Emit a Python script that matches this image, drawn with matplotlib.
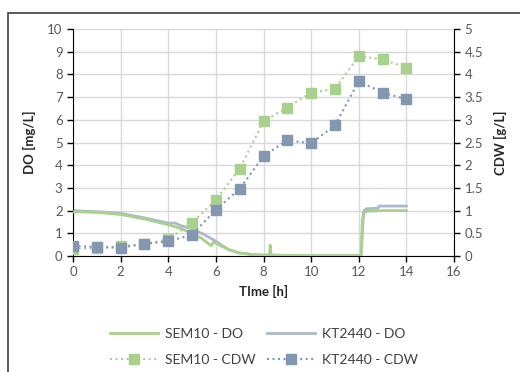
import matplotlib.pyplot as plt
from matplotlib.patches import Rectangle
from matplotlib.lines import Line2D

plt.rcParams['font.family'] = ['Lato', 'DejaVu Sans']

# CDW samples (hourly)
t_cdw = [0, 1, 2, 3, 4, 5, 6, 7, 8, 9, 10, 11, 12, 13, 14]
sem10_cdw = [0.16, 0.17, 0.22, 0.26, 0.37, 0.73, 1.24, 1.92, 2.97, 3.27, 3.60, 3.68, 4.40, 4.33, 4.15]
kt2440_cdw = [0.22, 0.20, 0.18, 0.27, 0.32, 0.47, 1.02, 1.48, 2.20, 2.55, 2.48, 2.88, 3.85, 3.60, 3.45]

# DO traces
t_sem_do = [0, 1, 2, 3, 4, 4.5, 5, 5.4, 5.8, 5.9, 6.2, 6.6, 7, 7.5, 8, 8.25, 8.28, 8.32, 8.5, 9, 10, 11, 12.1, 12.15, 12.25, 12.5, 13, 14]
sem_do = [1.95, 1.92, 1.83, 1.63, 1.38, 1.22, 1.0, 0.78, 0.45, 0.62, 0.45, 0.25, 0.13, 0.07, 0.05, 0.05, 0.48, 0.05, 0.04, 0.03, 0.02, 0.02, 0.02, 1.6, 1.95, 1.98, 2.0, 2.0]
t_kt_do = [0, 1, 2, 3, 4, 4.3, 4.5, 5, 5.5, 6, 6.5, 7, 7.3, 7.6, 8, 9, 10, 11, 12.1, 12.2, 12.3, 12.8, 12.85, 13.5, 14]
kt_do = [2.0, 1.95, 1.88, 1.68, 1.45, 1.45, 1.35, 1.2, 0.95, 0.65, 0.3, 0.13, 0.1, 0.03, 0.02, 0.01, 0.01, 0.01, 0.02, 1.95, 2.08, 2.1, 2.2, 2.2, 2.2]

green = '#A9D18E'
blue = '#8497B0'
blue_line = '#ADB9CA'
grid_c = '#D9D9D9'
txt_c = '#595959'

fig = plt.figure(figsize=(5.2, 3.72), dpi=100)
fig.patches.append(Rectangle((8/520, -0.1), 1.2, (372 - 13)/372 + 0.1,
                             transform=fig.transFigure, fill=False,
                             edgecolor='#404040', linewidth=1.2))

ax = fig.add_axes([73/520, 1 - 256/372, (454 - 73)/520, (256 - 29)/372])
ax2 = ax.twinx()

ax.plot(t_sem_do, sem_do, color=green, lw=2, zorder=3)
ax.plot(t_kt_do, kt_do, color=blue_line, lw=2, zorder=2)

ax2.plot(t_cdw, sem10_cdw, color=green, ls=':', lw=1.5, zorder=4)
ax2.plot(t_cdw, sem10_cdw, color=green, ls='none', marker='s', ms=6.5, zorder=4)
ax2.plot(t_cdw, kt2440_cdw, color=blue, ls=':', lw=1.5, zorder=5)
ax2.plot(t_cdw, kt2440_cdw, color=blue, ls='none', marker='s', ms=6.5, zorder=5)

ax.set_xlim(0, 16)
ax.set_ylim(0, 10)
ax2.set_ylim(0, 5)
ax.set_xticks(range(0, 17, 2))
ax.set_yticks(range(0, 11))
ax2.set_yticks([i * 0.5 for i in range(11)])
ax2.set_yticklabels(['0', '0.5', '1', '1.5', '2', '2.5', '3', '3.5', '4', '4.5', '5'])

ax.grid(True, color=grid_c, lw=1)
ax.set_axisbelow(True)

for a in (ax, ax2):
    a.spines['top'].set_visible(False)
    a.tick_params(colors=txt_c, labelsize=9.5, length=4, width=1, direction='out')
    a.tick_params(axis='both', color='black')
ax.spines['right'].set_visible(False)
ax2.spines['left'].set_visible(False)
ax2.spines['bottom'].set_visible(False)

ax.set_xlabel('TIme [h]', fontsize=9.5, fontweight='bold', color='#262626', labelpad=5)
ax.set_ylabel('DO [mg/L]', fontsize=9.5, fontweight='bold', color='#262626', labelpad=8)
ax2.set_ylabel('CDW [g/L]', fontsize=9.5, fontweight='bold', color='#262626', labelpad=8)

h_sem_do = Line2D([], [], color=green, lw=2)
h_kt_do = Line2D([], [], color=blue_line, lw=2)
h_sem_cdw = Line2D([], [], color=green, ls=':', lw=1.5, marker='s', ms=6.5)
h_kt_cdw = Line2D([], [], color=blue, ls=':', lw=1.5, marker='s', ms=6.5)
fig.legend([h_sem_do, h_sem_cdw, h_kt_do, h_kt_cdw],
           ['SEM10 - DO', 'SEM10 - CDW', 'KT2440 - DO', 'KT2440 - CDW'],
           ncol=2, loc='center', bbox_to_anchor=(264/520, 1 - 347/372),
           frameon=False, fontsize=10, handlelength=3.5, columnspacing=0.8,
           labelcolor='#404040', handletextpad=0.5, labelspacing=1.0)

fig.savefig('out.png', dpi=100)
